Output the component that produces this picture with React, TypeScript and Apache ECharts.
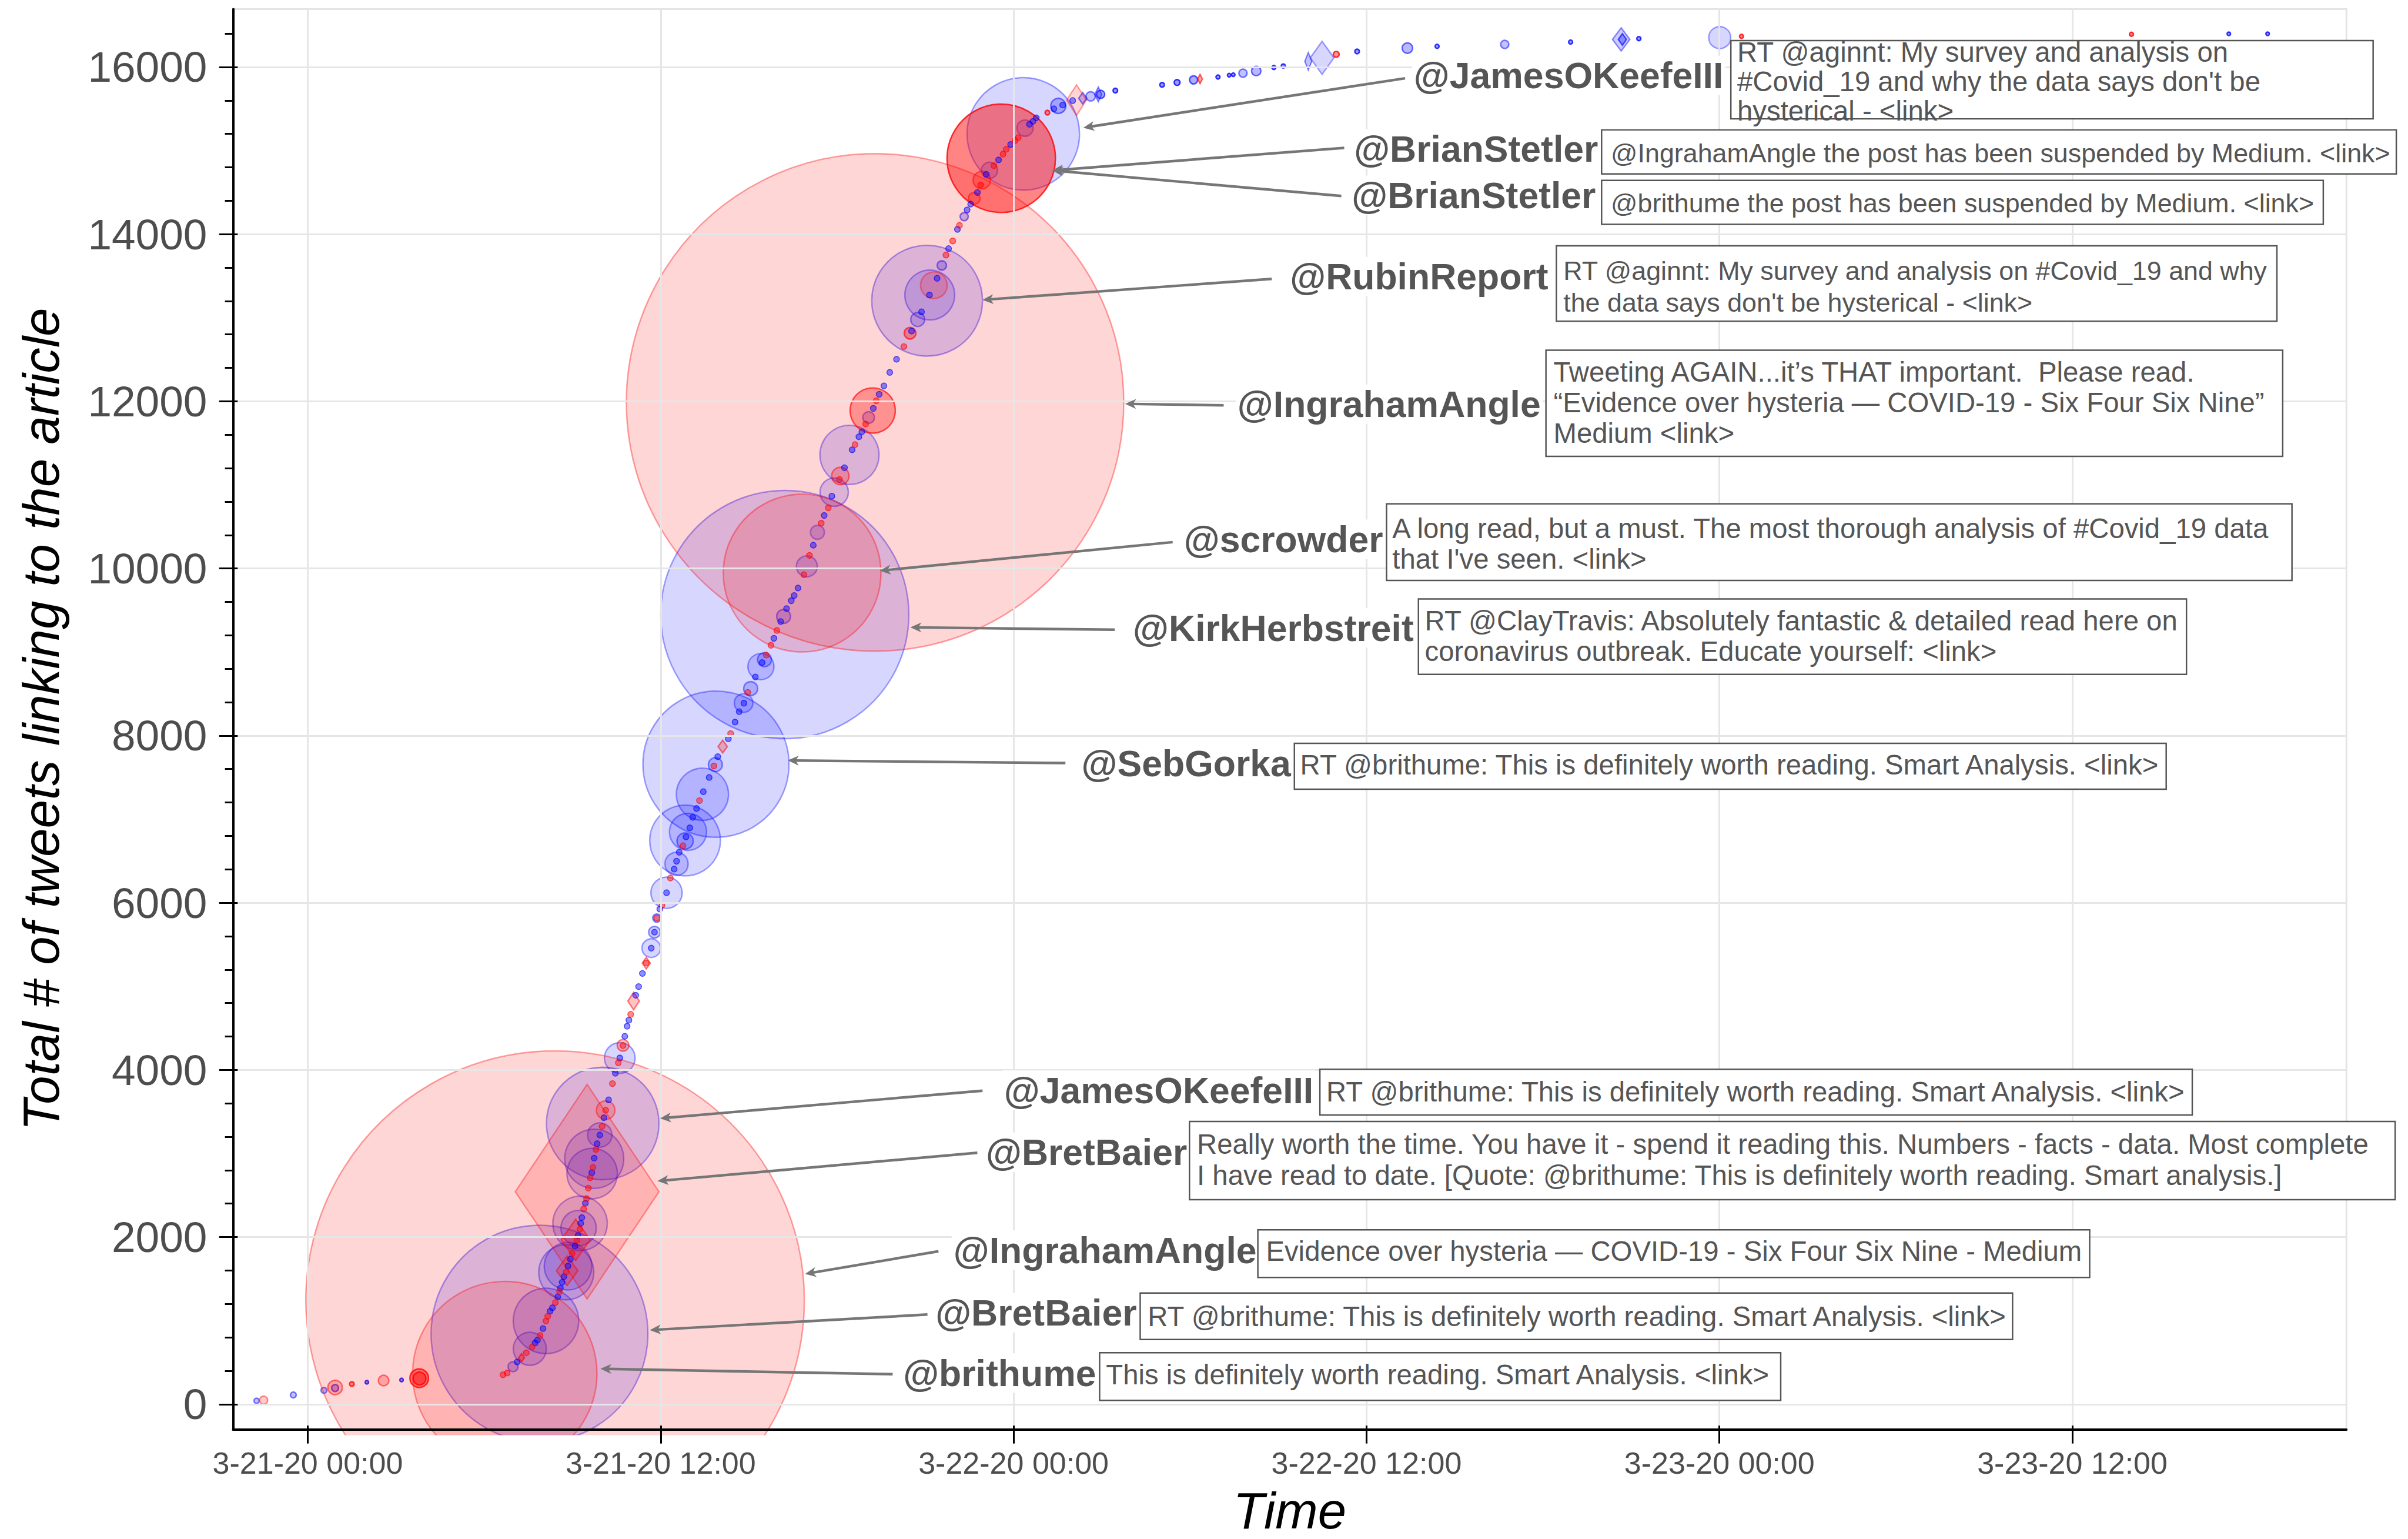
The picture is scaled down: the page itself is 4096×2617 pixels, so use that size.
import React, { useEffect, useRef } from "react";
import * as echarts from "echarts";

const S = 0.986;
const FONT = '"Liberation Sans", Arial, Helvetica, sans-serif';

// ---- axes ----
const xTickHours = [0, 12, 24, 36, 48, 60];
const xTickLabels = ["3-21-20 00:00", "3-21-20 12:00", "3-22-20 00:00", "3-22-20 12:00", "3-23-20 00:00", "3-23-20 12:00"];
const yTickValues = [0, 2000, 4000, 6000, 8000, 10000, 12000, 14000, 16000];
const yMinorValues = [0, 400, 800, 1200, 1600, 2000, 2400, 2800, 3200, 3600, 4000, 4400, 4800, 5200, 5600, 6000, 6400, 6800, 7200, 7600, 8000, 8400, 8800, 9200, 9600, 10000, 10400, 10800, 11200, 11600, 12000, 12400, 12800, 13200, 13600, 14000, 14400, 14800, 15200, 15600, 16000, 16400];
const xExtent = [-2.54, 69.32];
const yExtent = [-304, 16693];

// ---- data: [hours since 3-21-20 00:00, total tweets, reach, weight] ----
const redCircles: number[][] = [
  [-1.5, 48, 14, 0.25], [0.93, 200, 25, 0.3], [1.5, 242, 8, 0.5], [2.58, 283, 18, 0.3],
  [3.79, 311, 32, 0.5], [3.8, 308, 22, 0.5], [6.7, 366, 318, 0.2], [8.41, 1244, 860, 0.2],
  [10.13, 3518, 32, 0.25], [10.72, 4294, 20, 0.3], [16.81, 9945, 272, 0.2], [18.11, 11107, 30, 0.3],
  [19.21, 11890, 78, 0.4], [19.29, 11987, 858, 0.2], [20.48, 12815, 20, 0.4], [21.29, 13389, 46, 0.2],
  [22.66, 14429, 20, 0.3], [22.92, 14647, 30, 0.3], [23.58, 14908, 187, 0.6], [25.15, 15454, 8, 0.5],
  [34.97, 16152, 10, 0.5], [48.75, 16368, 7, 0.6], [62.01, 16392, 7, 0.6],
];
const blueCircles: number[][] = [
  [-1.74, 41, 9, 0.3], [-0.49, 111, 10, 0.3], [0.55, 166, 10, 0.3], [0.93, 194, 12, 0.35],
  [2.01, 263, 6, 0.5], [3.19, 290, 6, 0.5], [6.98, 449, 17, 0.25], [7.55, 663, 57, 0.2],
  [7.88, 843, 374, 0.2], [8.1, 997, 113, 0.2], [8.79, 1579, 95, 0.2], [8.85, 1652, 82, 0.2],
  [9.21, 2108, 61, 0.2], [9.26, 2163, 94, 0.2], [9.67, 2760, 87, 0.2], [9.74, 2937, 102, 0.2],
  [9.93, 3221, 42, 0.2], [10.03, 3359, 194, 0.2], [10.61, 4143, 53, 0.2], [11.68, 5457, 32, 0.2],
  [11.79, 5648, 20, 0.25], [11.87, 5817, 14, 0.3], [12.2, 6120, 54, 0.2], [12.54, 6466, 40, 0.2],
  [12.83, 6745, 122, 0.2], [12.83, 6739, 28, 0.25], [12.93, 6849, 64, 0.2], [13.42, 7298, 90, 0.2],
  [13.86, 7653, 24, 0.25], [13.88, 7658, 252, 0.2], [14.82, 8390, 32, 0.2], [15.06, 8563, 24, 0.25],
  [15.41, 8826, 45, 0.2], [15.53, 8909, 24, 0.25], [16.18, 9427, 24, 0.25], [16.22, 9448, 428, 0.2],
  [16.97, 10026, 36, 0.2], [17.33, 10433, 24, 0.2], [17.9, 10913, 49, 0.2], [18.42, 11359, 102, 0.2],
  [19.07, 11806, 20, 0.25], [20.74, 12979, 24, 0.25], [21.06, 13204, 191, 0.2], [21.15, 13272, 86, 0.2],
  [21.56, 13626, 16, 0.3], [22.32, 14210, 14, 0.3], [23.18, 14763, 28, 0.2], [24.33, 15200, 194, 0.2],
  [24.39, 15269, 28, 0.2], [25.52, 15535, 26, 0.3], [26.62, 15649, 16, 0.3], [26.96, 15673, 14, 0.4],
  [27.46, 15718, 8, 0.5], [29.05, 15787, 8, 0.5], [29.56, 15815, 10, 0.5], [30.12, 15846, 14, 0.4],
  [30.95, 15880, 7, 0.5], [31.33, 15903, 6, 0.5], [31.47, 15908, 6, 0.5], [31.8, 15926, 14, 0.3],
  [32.25, 15953, 16, 0.35], [32.85, 15995, 7, 0.5], [33.17, 16013, 7, 0.5], [35.68, 16186, 8, 0.5],
  [37.39, 16226, 18, 0.35], [38.4, 16248, 7, 0.5], [40.7, 16271, 14, 0.3], [42.94, 16299, 7, 0.5],
  [45.26, 16340, 7, 0.5], [48.01, 16352, 38, 0.2], [65.32, 16398, 6, 0.5], [66.64, 16398, 6, 0.5],
];
// [hours, tweets, reach width, reach height, weight]
const redDiamonds: number[][] = [
  [7.27, 556, 10, 14, 0.4], [8.82, 1597, 37, 51, 0.3], [9.11, 1967, 50, 71, 0.3],
  [9.5, 2543, 248, 370, 0.2], [11.08, 4824, 20, 30, 0.3], [11.51, 5277, 14, 20, 0.3],
  [14.11, 7869, 16, 22, 0.3], [26.14, 15604, 34, 53, 0.2], [30.34, 15857, 8, 16, 0.4],
];
const blueDiamonds: number[][] = [
  [26.35, 15626, 14, 20, 0.3], [26.88, 15673, 12, 25, 0.3], [34.02, 16069, 12, 30, 0.3],
  [34.49, 16110, 41, 57, 0.2], [44.66, 16330, 30, 40, 0.25], [44.7, 16330, 14, 20, 0.4],
];
// low-reach tweets along the curve: [hours, tweets]
const redTrail: number[][] = [
  [6.64, 352], [6.78, 373], [7.43, 615], [7.63, 684], [7.9, 822], [8.1, 995], [8.16, 1051], [8.42, 1216],
  [8.56, 1348], [8.79, 1583], [8.99, 1804], [9.15, 1963], [9.25, 2094], [9.38, 2336], [9.48, 2460],
  [9.54, 2585], [9.6, 2709], [9.7, 2834], [9.8, 3048], [10.01, 3324], [10.13, 3518], [10.36, 3836],
  [10.56, 4085], [10.72, 4292], [10.98, 4665], [11.51, 5280], [11.87, 5817], [12.04, 5971], [12.33, 6296],
  [12.76, 6683], [13.32, 7222], [13.81, 7637], [14.38, 8024], [14.96, 8517], [15.59, 8964], [15.75, 9081],
  [15.95, 9258], [16.87, 9925], [17.06, 10156], [17.46, 10541], [17.7, 10726], [18.08, 11065],
  [18.61, 11482], [18.97, 11729], [19.33, 12006], [20.27, 12655], [21.7, 13750], [21.93, 13919],
  [22.16, 14106], [22.88, 14590], [23.33, 14820], [23.64, 14958], [23.75, 15016], [24.05, 15120], [24.16, 15155],
];
const blueTrail: number[][] = [
  [7.12, 505], [7.73, 733], [7.81, 767], [8.0, 905], [8.24, 1113], [8.32, 1154], [8.5, 1286], [8.59, 1389],
  [8.65, 1458], [8.71, 1527], [8.85, 1652], [8.93, 1735], [9.09, 1894], [9.19, 2018], [9.28, 2163],
  [9.32, 2232], [9.44, 2405], [9.66, 2771], [9.74, 2944], [9.84, 3117], [9.93, 3221], [10.07, 3428],
  [10.23, 3642], [10.46, 3960], [10.61, 4143], [10.78, 4402], [10.86, 4523], [10.92, 4596], [11.15, 4893],
  [11.25, 4997], [11.38, 5154], [11.68, 5457], [11.79, 5648], [11.97, 5925], [12.2, 6120], [12.46, 6403],
  [12.54, 6497], [12.63, 6604], [12.86, 6789], [12.99, 6897], [13.09, 7022], [13.22, 7128], [13.45, 7329],
  [13.65, 7499], [13.94, 7748], [14.3, 7962], [14.53, 8162], [14.67, 8287], [14.83, 8388], [15.22, 8702],
  [15.45, 8874], [15.85, 9164], [16.08, 9365], [16.28, 9520], [16.44, 9614], [16.54, 9676], [16.67, 9766],
  [17.19, 10278], [17.56, 10634], [17.82, 10865], [18.25, 11205], [18.51, 11420], [18.74, 11576],
  [18.84, 11636], [19.23, 11915], [19.43, 12084], [19.59, 12185], [19.79, 12346], [20.02, 12503],
  [20.53, 12841], [20.87, 13071], [21.14, 13272], [21.4, 13472], [21.79, 13827], [22.09, 14058],
  [22.42, 14290], [22.54, 14360], [22.77, 14498], [23.07, 14716], [23.49, 14889], [23.9, 15073],
  [24.54, 15315], [24.66, 15350], [24.77, 15392], [25.37, 15500], [25.67, 15545], [26.01, 15599],
];

// ---- annotations ----
const noteUsers = ["@JamesOKeefeIII", "@BrianStetler", "@BrianStetler", "@RubinReport", "@IngrahamAngle", "@scrowder", "@KirkHerbstreit", "@SebGorka", "@JamesOKeefeIII", "@BretBaier", "@IngrahamAngle", "@BretBaier", "@brithume"];
const noteTexts: string[][] = [
  ["RT @aginnt: My survey and analysis on", "#Covid_19 and why the data says don't be", "hysterical - <link>"],
  ["@IngrahamAngle the post has been suspended by Medium. <link>"],
  ["@brithume the post has been suspended by Medium. <link>"],
  ["RT @aginnt: My survey and analysis on #Covid_19 and why", "the data says don't be hysterical - <link>"],
  ["Tweeting AGAIN...it\u2019s THAT important.  Please read.", "\u201CEvidence over hysteria \u2014 COVID-19 - Six Four Six Nine\u201D", "Medium <link>"],
  ["A long read, but a must. The most thorough analysis of #Covid_19 data", "that I've seen. <link>"],
  ["RT @ClayTravis: Absolutely fantastic & detailed read here on", "coronavirus outbreak. Educate yourself: <link>"],
  ["RT @brithume: This is definitely worth reading. Smart Analysis. <link>"],
  ["RT @brithume: This is definitely worth reading. Smart Analysis. <link>"],
  ["Really worth the time. You have it - spend it reading this. Numbers - facts - data. Most complete", "I have read to date. [Quote: @brithume: This is definitely worth reading. Smart analysis.]"],
  ["Evidence over hysteria \u2014 COVID-19 - Six Four Six Nine - Medium"],
  ["RT @brithume: This is definitely worth reading. Smart Analysis. <link>"],
  ["This is definitely worth reading. Smart Analysis. <link>"],
];
const noteTargets: number[][] = [
  [26.37, 15274], [25.31, 14763], [25.31, 14763], [22.94, 13214], [27.79, 11970], [19.45, 9973],
  [20.49, 9296], [16.32, 7703], [11.98, 3421], [11.89, 2670], [16.91, 1559], [11.63, 887], [9.95, 424],
];
// layout in reference pixels
const noteLayout = [
  { userRight: 2976, userY: 130, tail: [2424, 135], box: [2986, 70, 1108, 135], textX: 2997, lineY: [90, 140, 191], fontRef: 48 },
  { userRight: 2760, userY: 257, tail: [2319, 255], box: [2763, 224, 1371, 76], textX: 2779, lineY: [264], fontRef: 45.4 },
  { userRight: 2756, userY: 337, tail: [2314, 338], box: [2763, 311, 1245, 76], textX: 2779, lineY: [350], fontRef: 45.4 },
  { userRight: 2674, userY: 477, tail: [2194, 481], box: [2685, 424, 1243, 130], textX: 2697, lineY: [467, 521], fontRef: 45.4 },
  { userRight: 2661, userY: 697, tail: [2111, 699], box: [2667, 604, 1271, 183], textX: 2680, lineY: [641, 694, 747], fontRef: 48 },
  { userRight: 2389, userY: 930, tail: [2023, 935], box: [2392, 869, 1562, 132], textX: 2402, lineY: [911, 964], fontRef: 48 },
  { userRight: 2442, userY: 1083, tail: [1923, 1086], box: [2447, 1033, 1325, 130], textX: 2458, lineY: [1070, 1123], fontRef: 48 },
  { userRight: 2230, userY: 1316, tail: [1838, 1316], box: [2233, 1282, 1504, 79], textX: 2243, lineY: [1319], fontRef: 48 },
  { userRight: 2269, userY: 1880, tail: [1695, 1881], box: [2277, 1844, 1505, 79], textX: 2288, lineY: [1883], fontRef: 48 },
  { userRight: 2051, userY: 1987, tail: [1686, 1988], box: [2052, 1934, 2080, 135], textX: 2065, lineY: [1973, 2027], fontRef: 48 },
  { userRight: 2171, userY: 2156, tail: [1619, 2158], box: [2170, 2121, 1435, 82], textX: 2184, lineY: [2158], fontRef: 48 },
  { userRight: 1964, userY: 2264, tail: [1600, 2267], box: [1967, 2230, 1505, 80], textX: 1980, lineY: [2270], fontRef: 48 },
  { userRight: 1894, userY: 2368, tail: [1540, 2370], box: [1897, 2333, 1175, 82], textX: 1908, lineY: [2371], fontRef: 48 },
];

const RED = "255,0,0";
const BLUE = "0,0,255";
const TRAIL_REACH = 10;
const ARROW = "#767676";
const TXT = "#555555";
const USER_FONT_REF = 63.4;

function circleItem(row: number[], rgb: string) {
  const [h, c, reach, w] = row;
  return {
    value: [h, c],
    symbol: "circle",
    symbolSize: reach * S,
    itemStyle: { color: `rgba(${rgb},${w})`, borderColor: `rgba(${rgb},${Math.min(1, w * 1.8 + 0.1)})`, borderWidth: 2.5 * S },
  };
}
function diamondItem(row: number[], rgb: string) {
  const [h, c, rw, rh, w] = row;
  return {
    value: [h, c],
    symbol: "diamond",
    symbolSize: [rw * S, rh * S],
    itemStyle: { color: `rgba(${rgb},${w})`, borderColor: `rgba(${rgb},${Math.min(1, w * 1.8 + 0.1)})`, borderWidth: 2.5 * S },
  };
}
function trailItem(row: number[], rgb: string) {
  return {
    value: [row[0], row[1]],
    symbol: "circle",
    symbolSize: TRAIL_REACH * S,
    itemStyle: { color: `rgba(${rgb},0.55)`, borderColor: `rgba(${rgb},0.8)`, borderWidth: 1.5 * S },
  };
}

const GRID = { left: 396.4, top: 15.5, right: 104.7, bottom: 176.6 };

function App() {
  const ref = useRef<HTMLDivElement>(null);
  useEffect(() => {
    document.body.style.margin = "0";
    const chart = echarts.init(ref.current as HTMLDivElement, undefined, { renderer: "svg" });
    const baseAxisX = { type: "value", min: xExtent[0], max: xExtent[1], position: "bottom", z: 10 };
    const baseAxisY = { type: "value", min: yExtent[0], max: yExtent[1], position: "left", z: 10 };
    const option: any = {
      animation: false,
      backgroundColor: "#ffffff",
      grid: {
        ...GRID, containLabel: false,
        show: true, borderColor: "#e4e4e4", borderWidth: 3 * S, backgroundColor: "transparent",
      },
      xAxis: [
        {
          ...baseAxisX,
          axisLine: { show: true, onZero: false, lineStyle: { color: "#000", width: 4 * S } },
          axisTick: { show: true, inside: false, customValues: xTickHours, length: 24 * S, lineStyle: { color: "#000", width: 3 * S } },
          axisLabel: {
            show: true, customValues: xTickHours, margin: 31, fontSize: 52, color: "#4d4d4d", fontFamily: FONT,
            formatter: (v: number) => { const i = xTickHours.findIndex((t) => Math.abs(t - v) < 1e-6); return i >= 0 ? xTickLabels[i] : ""; },
          },
          splitLine: { show: false },
          name: "Time", nameLocation: "middle", nameGap: 94,
          nameTextStyle: { fontSize: 87, fontStyle: "italic", color: "#000", fontFamily: FONT },
        },
        {
          ...baseAxisX,
          axisLine: { show: false, onZero: false },
          axisTick: { show: true, inside: true, customValues: xTickHours, length: 7 * S, lineStyle: { color: "#000", width: 3 * S } },
          axisLabel: { show: false },
          splitLine: { show: false },
        },
      ],
      yAxis: [
        {
          ...baseAxisY,
          axisLine: { show: true, onZero: false, lineStyle: { color: "#000", width: 4 * S } },
          axisTick: { show: true, inside: false, customValues: yTickValues, length: 24 * S, lineStyle: { color: "#000", width: 3 * S } },
          axisLabel: {
            show: true, customValues: yTickValues, margin: 44, fontSize: 73, color: "#4d4d4d", fontFamily: FONT,
            formatter: (v: number) => String(Math.round(v)),
          },
          splitLine: { show: false },
          name: "Total # of tweets linking to the article", nameLocation: "middle", nameGap: 283, nameRotate: 90,
          nameTextStyle: { fontSize: 87, fontStyle: "italic", color: "#000", fontFamily: FONT },
        },
        {
          ...baseAxisY,
          axisLine: { show: false, onZero: false },
          axisTick: { show: true, inside: false, customValues: yMinorValues, length: 14 * S, lineStyle: { color: "#000", width: 3 * S } },
          axisLabel: { show: false },
          splitLine: { show: false },
        },
        {
          ...baseAxisY,
          axisLine: { show: false, onZero: false },
          axisTick: { show: true, inside: true, customValues: yTickValues, length: 8 * S, lineStyle: { color: "#000", width: 3 * S } },
          axisLabel: { show: false },
          splitLine: { show: false },
        },
      ],
      series: [
        {
          type: "scatter", name: "grid", data: [], z: 1, silent: true, xAxisIndex: 0, yAxisIndex: 0,
          markLine: {
            silent: true, symbol: ["none", "none"], label: { show: false }, animation: false,
            lineStyle: { color: "#e6e6e6", width: 3 * S, type: "solid" },
            emphasis: { disabled: true },
            data: [...xTickHours.map((v) => ({ xAxis: v })), ...yTickValues.map((v) => ({ yAxis: v }))],
          },
        },
        {
          type: "scatter", name: "blue", z: 2, silent: true, clip: true, xAxisIndex: 0, yAxisIndex: 0,
          data: [...blueCircles.map((r) => circleItem(r, BLUE)), ...blueDiamonds.map((r) => diamondItem(r, BLUE))],
        },
        {
          type: "scatter", name: "red", z: 3, silent: true, clip: true, xAxisIndex: 0, yAxisIndex: 0,
          data: [...redCircles.map((r) => circleItem(r, RED)), ...redDiamonds.map((r) => diamondItem(r, RED))],
        },
        {
          type: "scatter", name: "blue trail", z: 4, silent: true, clip: true, xAxisIndex: 0, yAxisIndex: 0,
          data: blueTrail.map((r) => trailItem(r, BLUE)),
        },
        {
          type: "scatter", name: "red trail", z: 4, silent: true, clip: true, xAxisIndex: 0, yAxisIndex: 0,
          data: redTrail.map((r) => trailItem(r, RED)),
        },
      ],
    };
    chart.setOption(option);

    const W = chart.getWidth();
    const H = chart.getHeight();
    const graphics: any[] = [];
    // mask the part of the bubbles that falls below the plotting area
    graphics.push({
      type: "rect", z: 5, silent: true,
      shape: { x: 0, y: H - GRID.bottom, width: W, height: GRID.bottom },
      style: { fill: "#ffffff" },
    });
    noteLayout.forEach((L, i) => {
      const p = chart.convertToPixel({ xAxisIndex: 0, yAxisIndex: 0 } as any, noteTargets[i]) as number[];
      const hx = p[0], hy = p[1];
      const tx = L.tail[0] * S, ty = L.tail[1] * S;
      const dx = hx - tx, dy = hy - ty;
      const len = Math.hypot(dx, dy) || 1;
      const ux = dx / len, uy = dy / len;
      const nx = -uy, ny = ux;
      const AL = 19 * S, AW = 8.5 * S;
      const bx = hx - ux * AL, by = hy - uy * AL;
      graphics.push({
        type: "line", z: 50, silent: true,
        shape: { x1: tx, y1: ty, x2: hx - ux * AL * 0.6, y2: hy - uy * AL * 0.6 },
        style: { stroke: ARROW, lineWidth: 4.5 * S },
      });
      graphics.push({
        type: "polygon", z: 50, silent: true,
        shape: { points: [[hx, hy], [bx + nx * AW, by + ny * AW], [hx - ux * AL * 0.72, hy - uy * AL * 0.72], [bx - nx * AW, by - ny * AW]] },
        style: { fill: ARROW },
      });
      graphics.push({
        type: "text", z: 60, silent: true, x: L.userRight * S, y: L.userY * S,
        style: {
          text: noteUsers[i], font: `bold ${(USER_FONT_REF * S).toFixed(1)}px ${FONT}`, fill: TXT,
          align: "right", verticalAlign: "middle", textAlign: "right", textVerticalAlign: "middle",
          backgroundColor: "#ffffff", padding: [2, 3, 2, 3],
        },
      });
      const b = L.box;
      graphics.push({
        type: "rect", z: 60, silent: true,
        shape: { x: b[0] * S, y: b[1] * S, width: b[2] * S, height: b[3] * S },
        style: { fill: "#ffffff", stroke: TXT, lineWidth: 2.5 * S },
      });
      noteTexts[i].forEach((t, j) => {
        graphics.push({
          type: "text", z: 61, silent: true, x: L.textX * S, y: L.lineY[j] * S,
          style: {
            text: t, font: `${(L.fontRef * S).toFixed(1)}px ${FONT}`, fill: TXT,
            align: "left", verticalAlign: "middle", textAlign: "left", textVerticalAlign: "middle",
          },
        });
      });
    });
    chart.setOption({ graphic: graphics });

    return () => chart.dispose();
  }, []);
  return <div ref={ref} style={{ width: 4096, height: 2617 }} />;
}

export default App;
